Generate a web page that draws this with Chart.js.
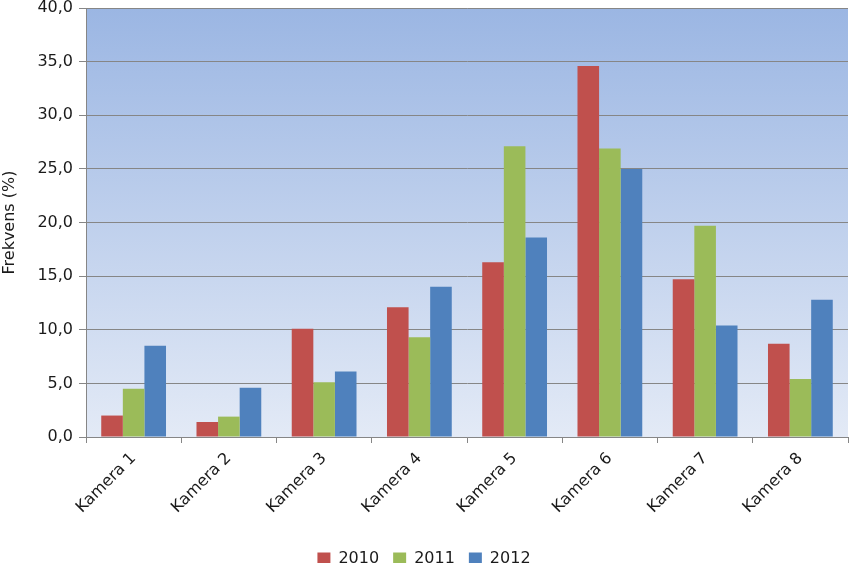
<!DOCTYPE html>
<html>
<head>
<meta charset="utf-8">
<script src="https://cdn.jsdelivr.net/npm/chart.js"></script>
<style>
  html, body { margin: 0; padding: 0; background: #ffffff; }
  #wrap { width: 851px; height: 563px; position: relative; }
</style>
</head>
<body>
<div id="wrap"><canvas id="kameraChart"></canvas></div>
<script>
const cameraLabels = ['Kamera 1', 'Kamera 2', 'Kamera 3', 'Kamera 4', 'Kamera 5', 'Kamera 6', 'Kamera 7', 'Kamera 8'];
const values2010 = [2.0, 1.4, 10.1, 12.1, 16.3, 34.6, 14.7, 8.7];
const values2011 = [4.5, 1.9, 5.1, 9.3, 27.1, 26.9, 19.7, 5.4];
const values2012 = [8.5, 4.6, 6.1, 14.0, 18.6, 25.0, 10.4, 12.8];

const axisGray = '#868686';
const textColor = '#1a1a1a';
const fontFamily = '"DejaVu Sans", sans-serif';

const plotBackground = {
    id: 'plotBackground',
    beforeDraw(chart) {
        const area = chart.chartArea;
        const ctx = chart.ctx;
        const gradient = ctx.createLinearGradient(0, area.top, 0, area.bottom);
        gradient.addColorStop(0, '#9BB6E3');
        gradient.addColorStop(1, '#E3EAF6');
        ctx.save();
        ctx.fillStyle = gradient;
        ctx.fillRect(area.left, area.top, area.right - area.left, area.bottom - area.top);
        ctx.restore();
    }
};

new Chart(document.getElementById('kameraChart'), {
    type: 'bar',
    data: {
        labels: cameraLabels,
        datasets: [
            { label: '2010', data: values2010, backgroundColor: '#C0504D' },
            { label: '2011', data: values2011, backgroundColor: '#9BBB59' },
            { label: '2012', data: values2012, backgroundColor: '#4F81BD' }
        ]
    },
    options: {
        responsive: true,
        maintainAspectRatio: false,
        animation: false,
        categoryPercentage: 0.68,
        barPercentage: 1.0,
        layout: {
            padding: { left: 0, right: 3, top: 8, bottom: -14 }
        },
        scales: {
            x: {
                offset: true,
                grid: {
                    offset: true,
                    drawOnChartArea: false,
                    color: axisGray,
                    tickLength: 6
                },
                border: { color: axisGray, width: 1 },
                ticks: {
                    color: textColor,
                    font: { family: fontFamily, size: 16 },
                    minRotation: 45,
                    maxRotation: 45,
                    padding: 6
                },
                afterFit(scale) { scale.height = 100; }
            },
            y: {
                min: 0,
                max: 40,
                ticks: {
                    stepSize: 5,
                    color: textColor,
                    font: { family: fontFamily, size: 16 },
                    padding: 6,
                    callback: function(value) {
                        return value.toFixed(1).replace('.', ',');
                    }
                },
                grid: {
                    color: axisGray,
                    tickLength: 7
                },
                border: { color: axisGray, width: 1 },
                title: {
                    display: true,
                    text: 'Frekvens (%)',
                    color: textColor,
                    font: { family: fontFamily, size: 16 },
                    padding: 0
                },
                afterFit(scale) {
                    scale.width = 86;
                    scale.paddingTop = 0;
                    scale.paddingBottom = 0;
                }
            }
        },
        plugins: {
            legend: {
                position: 'bottom',
                labels: {
                    color: textColor,
                    font: { family: fontFamily, size: 16 },
                    boxWidth: 13,
                    boxHeight: 13,
                    padding: 14
                }
            },
            tooltip: { enabled: false }
        }
    },
    plugins: [plotBackground]
});
</script>
</body>
</html>
